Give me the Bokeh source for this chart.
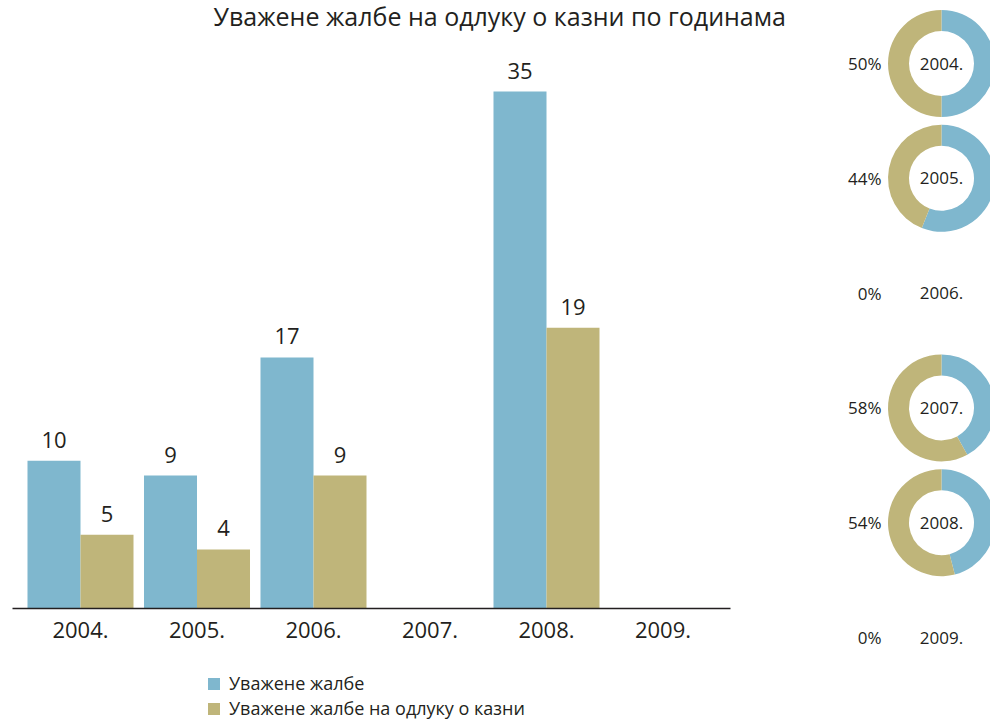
import math
from bokeh.plotting import figure
from bokeh.models import ColumnDataSource, Range1d, Label, FixedTicker
from bokeh.transform import dodge
from bokeh.embed import file_html
from bokeh.resources import INLINE
from bokeh.core.properties import value

# ---------------- data ----------------
title_text = "Уважене жалбе на одлуку о казни по годинама"
years = ["2004.", "2005.", "2006.", "2007.", "2008.", "2009."]
upheld = [10, 9, 17, 0, 35, 0]            # Уважене жалбе
upheld_penalty = [5, 4, 9, 0, 19, 0]      # Уважене жалбе на одлуку о казни
series_names = ["Уважене жалбе", "Уважене жалбе на одлуку о казни"]
donut_pct = [50, 44, 0, 58, 54, 0]        # share shown next to each ring

# ---------------- style / layout constants (pixels) ----------------
BLUE = "#7FB7CE"
GOLD = "#BFB57A"
TEXT = "#231F20"
FONT = "Open Sans"
W, H = 990, 720
X0, XSTEP = 80, 116.5        # centre of first year group, width of one group
AXIS_L, AXIS_R = 12, 730     # ends of the baseline
BASE, PPU = 608, 14.771      # zero line row, pixels per unit
RING_X, ROW0, ROW_STEP = 941, 63, 114.8

idx = list(range(len(years)))

def bar_source(vals):
    keep = [i for i, v in zip(idx, vals) if v > 0]
    vs = [vals[i] for i in keep]
    return ColumnDataSource(dict(i=keep, val=vs, lbl=[str(v) for v in vs]))

src_a = bar_source(upheld)
src_b = bar_source(upheld_penalty)

p = figure(width=W, height=H,
           x_range=Range1d(-X0 / XSTEP, (W - X0) / XSTEP),
           y_range=Range1d(-(H - BASE) / PPU, BASE / PPU),
           y_axis_location=None, toolbar_location=None, output_backend="svg",
           min_border_left=0, min_border_right=0, min_border_top=0, min_border_bottom=0)
p.outline_line_color = None
p.xgrid.visible = False
p.ygrid.visible = False
p.extra_x_ranges = {"ring": Range1d(-RING_X, W - RING_X)}
p.extra_y_ranges = {"ring": Range1d((H - ROW0) / ROW_STEP, -ROW0 / ROW_STEP)}

# ---------------- bars ----------------
off = 0.2275
bw = 0.455
p.vbar(x=dodge("i", -off), top="val", width=bw, source=src_a,
       fill_color=BLUE, line_color=None, legend_label=series_names[0])
p.vbar(x=dodge("i", off), top="val", width=bw, source=src_b,
       fill_color=GOLD, line_color=None, legend_label=series_names[1])

for src, o in ((src_a, -off), (src_b, off)):
    p.text(x=dodge("i", o), y="val", text="lbl", source=src,
           text_align="center", text_baseline="alphabetic", y_offset=-21,
           text_font=value(FONT), text_font_size="22px", text_color=TEXT)

ax = p.xaxis[0]
ax.fixed_location = 0
ax.ticker = FixedTicker(ticks=idx, minor_ticks=[])
ax.major_label_overrides = {i: y for i, y in zip(idx, years)}
ax.bounds = ((AXIS_L - X0) / XSTEP, (AXIS_R - X0) / XSTEP)
ax.axis_line_color = TEXT
ax.axis_line_width = 1.3
ax.major_tick_line_color = None
ax.minor_tick_line_color = None
ax.major_label_text_font = FONT
ax.major_label_text_font_size = "22px"
ax.major_label_text_color = TEXT
ax.major_label_standoff = 7

lg = p.legend[0]
lg.location = (206, 0)
lg.background_fill_alpha = 0
lg.border_line_color = None
lg.padding = 0
lg.margin = 0
lg.spacing = 1
lg.glyph_width = 15
lg.glyph_height = 15
lg.label_standoff = 8
lg.label_height = 15
lg.label_text_font = FONT
lg.label_text_font_size = "18px"
lg.label_text_color = TEXT

p.add_layout(Label(x=213, y=H - 15, x_units="screen", y_units="screen", text=title_text,
                   text_font=FONT, text_font_size="25px", text_color=TEXT,
                   text_baseline="alphabetic"))

# ---------------- donuts ----------------
ring_idx = [i for i, pc in zip(idx, donut_pct) if pc > 0]
ring_pct = [pc for pc in donut_pct if pc > 0]
top = math.pi / 2
split = [top - 2 * math.pi * (1 - pc / 100.0) for pc in ring_pct]
blue_src = ColumnDataSource(dict(y=ring_idx, a0=[top] * len(split), a1=split))
gold_src = ColumnDataSource(dict(y=ring_idx, a0=split, a1=[top - 2 * math.pi] * len(split)))
for src, col in ((blue_src, BLUE), (gold_src, GOLD)):
    p.annular_wedge(x=0, y="y", inner_radius=32.5, outer_radius=53.5,
                    inner_radius_units="screen", outer_radius_units="screen",
                    start_angle="a0", end_angle="a1", direction="clock",
                    source=src, fill_color=col, line_color=None,
                    x_range_name="ring", y_range_name="ring")

lab_src = ColumnDataSource(dict(y=idx, year=years, pct=[f"{pc}%" for pc in donut_pct]))
p.text(x=0, y="y", text="pct", source=lab_src, x_offset=-60,
       text_align="right", text_baseline="middle",
       text_font=value(FONT), text_font_size="17px", text_color=TEXT,
       x_range_name="ring", y_range_name="ring")
p.text(x=0, y="y", text="year", source=lab_src,
       text_align="center", text_baseline="middle",
       text_font=value(FONT), text_font_size="17px", text_color=TEXT,
       x_range_name="ring", y_range_name="ring")

open("out.html", "w").write(file_html(p, INLINE))
